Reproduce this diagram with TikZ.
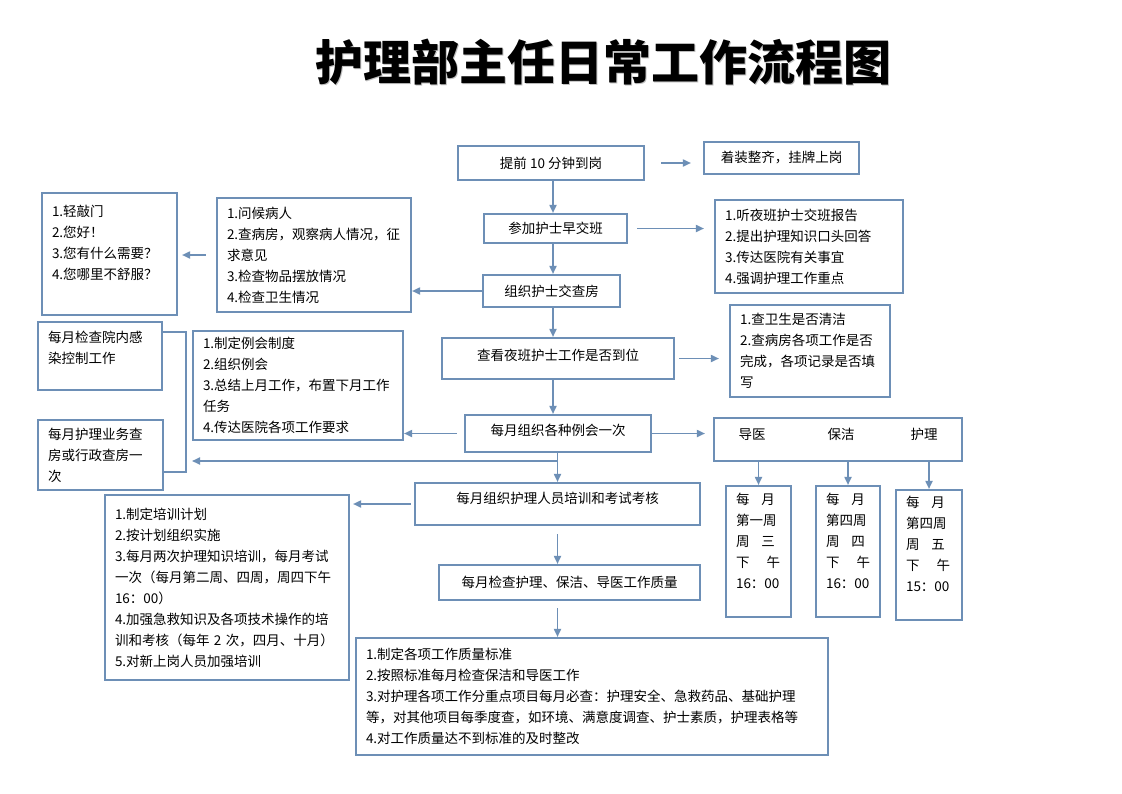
\documentclass[tikz,border=0pt]{standalone}
\usepackage{fontspec}
\setmainfont{Noto Sans CJK SC}
\usepackage{xcolor}
\usetikzlibrary{arrows.meta}
\definecolor{linecol}{RGB}{109,143,182}
\tikzset{box/.style={draw=linecol,line width=2.1pt,inner xsep=10pt,inner ysep=4pt,font=\fontsize{13.5}{21}\selectfont},
            list node/.style={box,align=left,text width=#1},
            line/.style={draw=linecol,line width=1.7pt},
            arr/.style={line,-{Triangle[length=8pt,width=7pt]}},
            }

\begin{document}
\begin{tikzpicture}[x=1pt,y=-1pt]
				\fill[white] (0,0) rectangle (1122,793);
				\useasboundingbox (0,0) rectangle (1122,793);
				\node[font=\fontsize{48}{52}\selectfont\bfseries,text=black!25] (titleshadow) at (604.5,63.5) {护理部主任日常工作流程图};
				\node[font=\fontsize{48}{52}\selectfont\bfseries] (title) at (603,62) {护理部主任日常工作流程图};

				% main column
				\node[box,minimum width=186pt,minimum height=34pt] (arrive) at (551,163) {提前 10 分钟到岗};
				\node[box,minimum width=143pt,minimum height=29pt] (handover) at (555.5,228.5) {参加护士早交班};
				\node[box,minimum width=137pt,minimum height=32pt] (round) at (551.5,291) {组织护士交查房};
				\node[box,minimum width=232pt,minimum height=41pt,text depth=8pt] (nightchk) at (558,358.5) {查看夜班护士工作是否到位};
				\node[box,minimum width=186pt,minimum height=37pt,text depth=7pt] (monthly) at (558,433.5) {每月组织各种例会一次};
				\node[box,minimum width=285pt,minimum height=42pt,text depth=12pt] (train) at (557.5,504) {每月组织护理人员培训和考试考核};
				\node[box,minimum width=261pt,minimum height=35pt] (qcheck) at (569.5,582.5) {每月检查护理、保洁、导医工作质量};
				\node[list node=452pt,minimum height=117pt] (quality) at (592,696.5) {1.制定各项工作质量标准\\2.按照标准每月检查保洁和导医工作\\3.对护理各项工作分重点项目每月必查：护理安全、急救药品、基础护理\\等，对其他项目每季度查，如环境、满意度调查、护士素质，护理表格等\\4.对工作质量达不到标准的及时整改};

				% right side
				\node[box,minimum width=155pt,minimum height=32pt] (dress) at (781.5,158) {着装整齐，挂牌上岗};
				\node[list node=168pt,minimum height=93pt] (report) at (809,246.5) {1.听夜班护士交班报告\\2.提出护理知识口头回答\\3.传达医院有关事宜\\4.强调护理工作重点};
				\node[list node=140pt,minimum height=92pt] (clean) at (810,351) {1.查卫生是否清洁\\2.查病房各项工作是否\\完成，各项记录是否填\\写};
				\node[box,inner xsep=0pt,minimum width=248pt,minimum height=43pt,text depth=11pt] (staff) at (838,439.5) {导医\hspace{62pt}保洁\hspace{56pt}护理};
				\node[list node=45pt,minimum height=131pt] (m1) at (758.5,551.5) {\makebox[39pt]{每\hfill 月}\\第一周\\\makebox[39pt]{周\hfill 三}\\\makebox[44pt]{下\hfill 午}\\16：00\\\mbox{}};
				\node[list node=44pt,minimum height=131pt] (m2) at (848,551.5) {\makebox[39pt]{每\hfill 月}\\第四周\\\makebox[39pt]{周\hfill 四}\\\makebox[44pt]{下\hfill 午}\\16：00\\\mbox{}};
				\node[list node=46pt,minimum height=130pt] (m3) at (929,555) {\makebox[39pt]{每\hfill 月}\\第四周\\\makebox[39pt]{周\hfill 五}\\\makebox[44pt]{下\hfill 午}\\15：00\\[2pt]\mbox{}};

				% left side
				\node[list node=115pt,minimum height=122pt] (knock) at (109.5,254) {1.轻敲门\\2.您好！\\3.您有什么需要？\\4.您哪里不舒服？\\[2pt]\mbox{}};
				\node[list node=174pt,minimum height=114pt] (greet) at (314,255) {1.问候病人\\2.查病房，观察病人情况，征\\求意见\\3.检查物品摆放情况\\4.检查卫生情况};
				\node[list node=104pt,minimum height=68pt] (infect) at (100,356) {每月检查院内感\\染控制工作\\[-4pt]\mbox{}};
				\node[list node=190pt,minimum height=109pt] (meeting) at (298,385.5) {1.制定例会制度\\2.组织例会\\3.总结上月工作，布置下月工作\\任务\\4.传达医院各项工作要求};
				\node[list node=105pt,minimum height=70pt] (ward) at (100.5,455) {每月护理业务查\\房或行政查房一\\次};
				\node[list node=224pt,minimum height=185pt] (plan) at (227,587.5) {1.制定培训计划\\2.按计划组织实施\\3.每月两次护理知识培训，每月考试\\一次（每月第二周、四周，周四下午\\16：00）\\4.加强急救知识及各项技术操作的培\\训和考核（每年 2 次，四月、十月）\\5.对新上岗人员加强培训};

				\coordinate (col) at (553,0);
				\coordinate (split) at (557.5,461);
				\coordinate (brk) at (186,461);

				\draw[arr,shorten <=16pt,shorten >=12pt] (arrive.east) -- (arrive.east -| dress.west);
				\draw[arr] (arrive.south -| col) -- (handover.north -| col);
				\draw[arr,shorten <=9pt,shorten >=10pt] (handover.east) -- (handover.east -| report.west);
				\draw[arr] (handover.south -| col) -- (round.north -| col);
				\draw[arr] (round.west) -- (round.west -| greet.east);
				\draw[arr,shorten <=10pt,shorten >=4pt] (greet.west) -- (greet.west -| knock.east);
				\draw[arr] (round.south -| col) -- (nightchk.north -| col);
				\draw[arr,shorten <=4pt,shorten >=10pt] (nightchk.east) -- (nightchk.east -| clean.west);
				\draw[arr] (nightchk.south -| col) -- (monthly.north -| col);
				\draw[arr,shorten >=8pt] (monthly.east) -- (monthly.east -| staff.west);
				\draw[arr,shorten <=7pt] (monthly.west) -- (monthly.west -| meeting.east);
				\draw[arr] (monthly.south -| train) -- (train.north);
				\draw[arr,shorten >=6pt] (split) -- (brk);
				\draw[line] ([yshift=-11pt]infect.north east) -| (brk) |- ([yshift=-17pt]ward.east);
				\draw[arr,shorten <=3pt,shorten >=3pt] (train.west) -- (train.west -| plan.east);
				\draw[arr,shorten <=8pt] (train.south) -- (train.south |- qcheck.north);
				\draw[arr,shorten <=7pt] (qcheck.south -| train) -- (quality.north -| train);
				\foreach \m in {m1,m2,m3}
					\draw[arr] (staff.south -| \m) -- (\m.north);
			\end{tikzpicture}
\end{document}
